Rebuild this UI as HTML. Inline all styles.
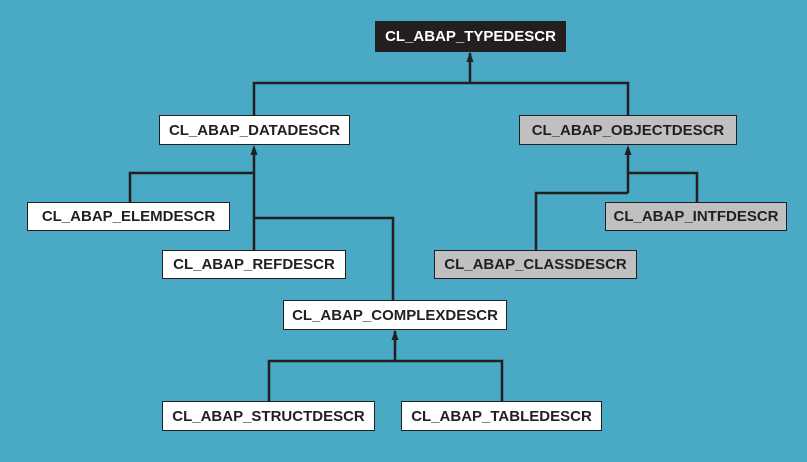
<!DOCTYPE html>
<html><head><style>
body{margin:0;width:807px;height:462px;background:#4aa9c4;position:relative;overflow:hidden;font-family:"Liberation Sans",Arial,sans-serif}
.b{position:absolute;box-sizing:border-box;border:1px solid #231f20;background:#fff;color:#231f20;font-weight:bold;font-size:15px;display:flex;align-items:center;justify-content:center;white-space:nowrap}
.g{background:#c0c0c2}
svg{position:absolute;left:0;top:0}
</style></head><body>
<svg width="807" height="462">
<g stroke="#231f20" stroke-width="2.5" fill="none">
<path d="M470 53V83M254 115V83H628V115"/>
<path d="M254 148V250M130 202V173H254M254 218H393V300"/>
<path d="M628 148V193M697 202V173H628M536 250V193H628"/>
<path d="M395 331V361M269 401V361H502V401"/>
</g>
<g fill="#231f20">
<path d="M470 52l-3.5 10h7z"/><path d="M254 145l-3.5 10h7z"/><path d="M628 145l-3.5 10h7z"/><path d="M395 330l-3.5 10h7z"/>
</g>
</svg>
<div class="b" style="left:375px;top:21px;width:191px;height:31px;background:#231f20;color:#fff">CL_ABAP_TYPEDESCR</div>
<div class="b" style="left:159px;top:115px;width:191px;height:30px">CL_ABAP_DATADESCR</div>
<div class="b g" style="left:519px;top:115px;width:218px;height:30px">CL_ABAP_OBJECTDESCR</div>
<div class="b" style="left:27px;top:202px;width:203px;height:29px">CL_ABAP_ELEMDESCR</div>
<div class="b" style="left:162px;top:250px;width:184px;height:29px">CL_ABAP_REFDESCR</div>
<div class="b g" style="left:605px;top:202px;width:182px;height:29px">CL_ABAP_INTFDESCR</div>
<div class="b g" style="left:434px;top:250px;width:203px;height:29px">CL_ABAP_CLASSDESCR</div>
<div class="b" style="left:283px;top:300px;width:224px;height:30px">CL_ABAP_COMPLEXDESCR</div>
<div class="b" style="left:162px;top:401px;width:213px;height:30px">CL_ABAP_STRUCTDESCR</div>
<div class="b" style="left:401px;top:401px;width:201px;height:30px">CL_ABAP_TABLEDESCR</div>
</body></html>
